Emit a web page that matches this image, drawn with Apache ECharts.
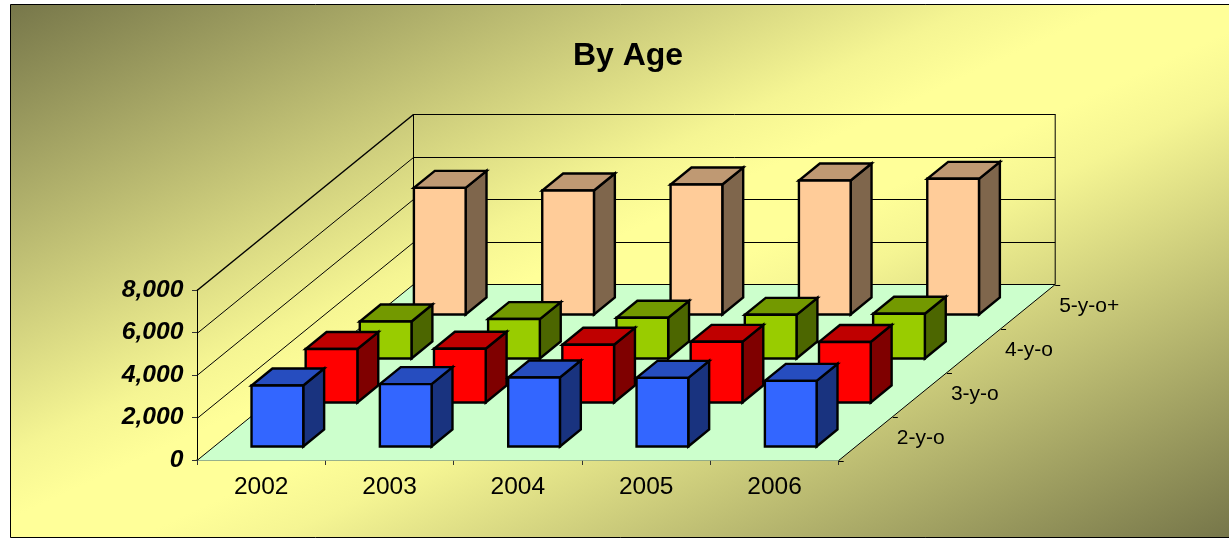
<!DOCTYPE html>
<html>
<head>
<meta charset="utf-8">
<style>html,body{margin:0;padding:0;background:#fff}#c{width:1229px;height:538px}</style>
<script src="https://cdn.jsdelivr.net/npm/echarts@6/dist/echarts.min.js"></script>
</head>
<body>
<div id="c"></div>
<script>
var years = ['2002', '2003', '2004', '2005', '2006'];
var ages = ['2-y-o', '3-y-o', '4-y-o', '5-y-o+'];
var yTicks = [0, 2000, 4000, 6000, 8000];
var age2 = [2870, 2935, 3250, 3230, 3090];
var age3 = [2515, 2530, 2715, 2855, 2850];
var age4 = [1740, 1855, 1915, 2055, 2105];
var age5 = [5960, 5835, 6115, 6305, 6385];

var DEPTH_DX = 216.5, DEPTH_DY = -176;
var BAR_W = 0.403, BAR_D = 0.386, BAR_NUDGE = -0.4;
var FONT = '"Liberation Sans", Arial, sans-serif';

function crisp(v) { return Math.round(v) + 0.5; }

function line(x1, y1, x2, y2, w) {
  return { type: 'line', shape: { x1: x1, y1: y1, x2: x2, y2: y2 },
    style: { stroke: '#000', lineWidth: w || 1, fill: null } };
}
function poly(pts, fill, sw) {
  return { type: 'polygon', shape: { points: pts },
    style: { fill: fill, stroke: sw ? '#000' : null, lineWidth: sw || 0, lineJoin: 'miter' } };
}

function frameItem(params, api) {
  var cw = api.size([1, 0])[0];
  var o = api.coord([0, 0]);
  var L = o[0] - cw / 2, B = crisp(o[1]);
  var R = api.coord([years.length - 1, 0])[0] + cw / 2;
  var els = [];
  els.push(poly([[L, B], [R, B], [R + DEPTH_DX, B + DEPTH_DY], [L + DEPTH_DX, B + DEPTH_DY]], '#CCFFCC', 0));
  yTicks.forEach(function (v, i) {
    var y = crisp(api.coord([0, v])[1]);
    var w = i === yTicks.length - 1 ? 1.5 : 1;
    els.push(line(L, y, L + DEPTH_DX, y + DEPTH_DY, w));
    els.push(line(L + DEPTH_DX, y + DEPTH_DY, R + DEPTH_DX, y + DEPTH_DY, 1));
  });
  var t = api.coord([0, yTicks[yTicks.length - 1]])[1];
  els.push(line(L + DEPTH_DX, B + DEPTH_DY, L + DEPTH_DX, t + DEPTH_DY));
  els.push(line(R + DEPTH_DX, B + DEPTH_DY, R + DEPTH_DX, t + DEPTH_DY));
  els.push(line(R, B, R + DEPTH_DX, B + DEPTH_DY));
  for (var k = 0; k <= ages.length; k++) {
    var f = k / ages.length;
    var x = R + DEPTH_DX * f, y = B + DEPTH_DY * f;
    els.push(line(x, crisp(y), x + 5, crisp(y), 1));
    if (k < ages.length) {
      var m = (k + 0.5) / ages.length;
      els.push({ type: 'text', style: { text: ages[k], x: R + DEPTH_DX * m + 31, y: B + DEPTH_DY * m,
        align: 'left', verticalAlign: 'middle', font: '21px ' + FONT, fill: '#000' } });
    }
  }
  return { type: 'group', children: els };
}

function barSeries(name, values, depth, front, side, top) {
  return {
    name: name, type: 'custom', coordinateSystem: 'cartesian2d',
    encode: { x: 0, y: 1 }, clip: false,
    data: values.map(function (v, i) { return [i, v]; }),
    renderItem: function (params, api) {
      var i = api.value(0), v = api.value(1);
      var cw = api.size([1, 0])[0], w = cw * BAR_W;
      var b = api.coord([i, 0]), t = api.coord([i, v]);
      var f = (depth + (1 - BAR_D) / 2) / ages.length;
      var d = BAR_D / ages.length;
      var ox = DEPTH_DX * f + BAR_NUDGE, oy = DEPTH_DY * f;
      var ddx = DEPTH_DX * d, ddy = DEPTH_DY * d;
      var xl = b[0] - w / 2 + ox, xr = xl + w, yb = b[1] + oy, yt = t[1] + oy;
      return { type: 'group', children: [
        poly([[xr, yb], [xr + ddx, yb + ddy], [xr + ddx, yt + ddy], [xr, yt]], side, 2.4),
        poly([[xl, yt], [xr, yt], [xr + ddx, yt + ddy], [xl + ddx, yt + ddy]], top, 2.4),
        poly([[xl, yb], [xr, yb], [xr, yt], [xl, yt]], front, 2.4)
      ] };
    }
  };
}

var chart = echarts.init(document.getElementById('c'));
chart.setOption({
  animation: false,
  backgroundColor: '#fff',
  graphic: [{
    type: 'rect', z: -1, silent: true,
    shape: { x: 10.5, y: 4.5, width: 1240, height: 533 },
    style: {
      stroke: '#000', lineWidth: 1,
      fill: new echarts.graphic.LinearGradient(11, 5, 428, 905, [
        { offset: 0, color: '#77774A' },
        { offset: 0.41, color: '#F5F593' },
        { offset: 0.47, color: '#FFFF99' },
        { offset: 0.54, color: '#FFFF99' },
        { offset: 0.6, color: '#F5F593' },
        { offset: 1, color: '#77774A' }
      ], true)
    }
  }],
  title: {
    text: 'By Age', left: 623, top: 35, textAlign: 'center',
    textStyle: { fontFamily: FONT, fontSize: 32, fontWeight: 'bold', color: '#000' }
  },
  grid: { left: 197, right: 390.3, top: 290, bottom: 78, containLabel: false },
  xAxis: {
    type: 'category', data: years, boundaryGap: true,
    axisLine: { show: true, lineStyle: { color: '#333', width: 1.5 } },
    axisTick: { show: true, length: 5, lineStyle: { color: '#333' } },
    axisLabel: { margin: 15, fontFamily: FONT, fontSize: 24.5, color: '#000' },
    splitLine: { show: false }
  },
  yAxis: {
    type: 'value', min: 0, max: 8000, interval: 2000,
    axisLine: { show: true, lineStyle: { color: '#000', width: 1 } },
    axisTick: { show: true, length: 5, lineStyle: { color: '#333' } },
    axisLabel: {
      margin: 13.5, fontFamily: FONT, fontSize: 24.7, fontWeight: 'bold', fontStyle: 'italic', color: '#000',
      formatter: function (v) { return v === 0 ? '0' : String(v).replace(/(\d)(\d{3})$/, '$1,$2'); }
    },
    splitLine: { show: false }
  },
  series: [
    { name: 'frame', type: 'custom', coordinateSystem: 'cartesian2d', encode: { x: 0, y: 1 }, clip: false,
      data: [[0, 0]], renderItem: frameItem, silent: true },
    barSeries(ages[3], age5, 3, '#FFCC99', '#7F664C', '#BF9973'),
    barSeries(ages[2], age4, 2, '#99CC00', '#4C6600', '#739900'),
    barSeries(ages[1], age3, 1, '#FF0000', '#7F0000', '#BF0000'),
    barSeries(ages[0], age2, 0, '#3366FF', '#19337F', '#264DBF')
  ]
});
</script>
</body>
</html>
